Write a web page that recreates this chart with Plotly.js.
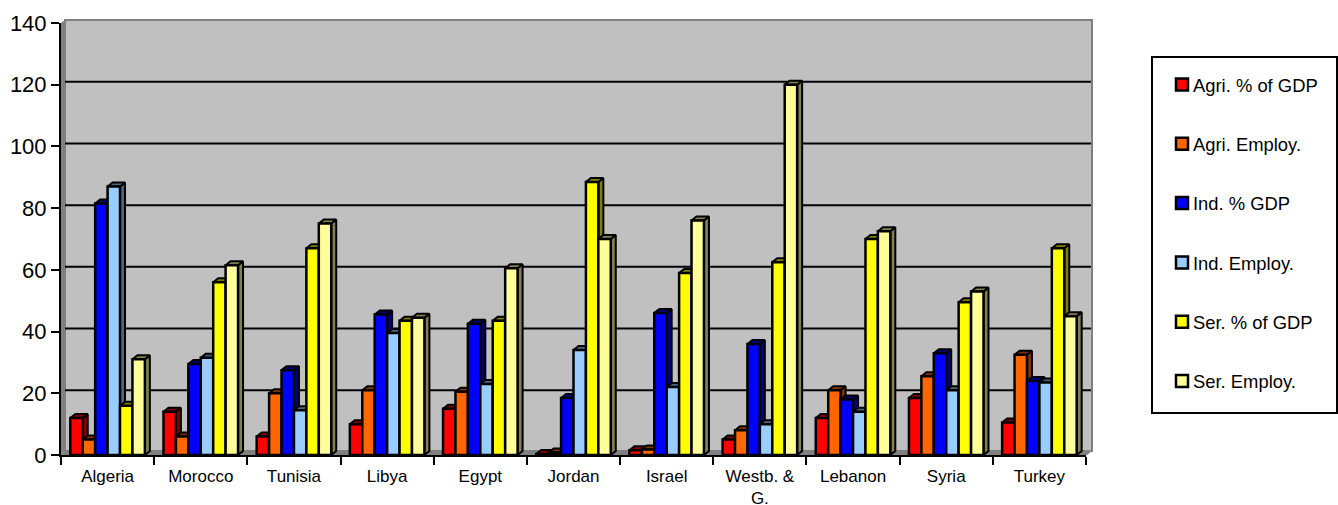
<!DOCTYPE html>
<html><head><meta charset="utf-8">
<script src="https://cdn.plot.ly/plotly-3.0.1.min.js"></script>
<style>html,body{margin:0;padding:0;background:#fff}</style></head>
<body><div id="chart" style="width:1338px;height:505px"></div>
<script>
const categories = ["Algeria","Morocco","Tunisia","Libya","Egypt","Jordan","Israel","Westb. &<br>G.","Lebanon","Syria","Turkey"];
const agriGdp    = [12, 14, 6, 10, 15, 0.3, 1.5, 5, 12, 18.5, 10.5];
const agriEmploy = [5, 6, 20, 21, 20.5, 0.8, 1.8, 8, 21, 25.5, 32.5];
const indGdp     = [81.5, 29.5, 27.5, 45.5, 42.5, 18.5, 46, 36, 18, 33, 24];
const indEmploy  = [87, 31.5, 14.5, 39.5, 23, 34, 22, 10, 14, 21, 23.5];
const serGdp     = [16, 56, 67, 43.5, 43.5, 88.5, 59, 62.5, 70, 49.5, 67];
const serEmploy  = [31, 61.5, 75, 44.5, 60.5, 70, 76, 120, 72.5, 53, 45];
const seriesNames = ["Agri. % of GDP","Agri. Employ.","Ind. % GDP","Ind. Employ.","Ser. % of GDP","Ser. Employ."];
const seriesValues = [agriGdp, agriEmploy, indGdp, indEmploy, serGdp, serEmploy];
const frontColors = ["#FF0000","#FF6600","#0000FF","#99CCFF","#FFFF00","#FFFF99"];
const sideColors  = ["#800000","#803300","#000080","#4D6680","#808000","#808050"];
const yTicks = [0,20,40,60,80,100,120,140];

const px = v => v/1338, py = v => 1 - v/505;
const L=61, R=1086, B=455, T=23;
const depthX = 5/((R-L)/11), depthY = 4/((B-T)/140);
const gridDepthY = 3/((B-T)/140);
const barSpan = 0.8, barW = barSpan/6;

const traces = [];
seriesValues.forEach((vals,j)=>{
  const sx=[],sy=[],tx=[],ty=[];
  vals.forEach((v,i)=>{
    const x0=i-barSpan/2+j*barW, x1=x0+barW;
    sx.push(x1,x1+depthX,x1+depthX,x1,x1,null);
    sy.push(0,depthY,v+depthY,v,0,null);
    tx.push(x0,x0+depthX,x1+depthX,x1,x0,null);
    ty.push(v,v+depthY,v+depthY,v,v,null);
  });
  [[sx,sy],[tx,ty]].forEach(p=>traces.push({
    type:"scatter",mode:"lines",x:p[0],y:p[1],xaxis:"x",yaxis:"y",fill:"toself",
    fillcolor:sideColors[j],line:{color:"#000",width:2},showlegend:false,hoverinfo:"skip"
  }));
});
seriesValues.forEach((vals,j)=>traces.push({
  type:"bar",name:seriesNames[j],x:categories,y:vals,xaxis:"x2",yaxis:"y2",
  legendgroup:"g"+j,
  marker:{color:frontColors[j],line:{color:"#000",width:2.5}}
}));

const shapes = [
 {type:"rect",xref:"paper",yref:"paper",x0:px(65),x1:px(1092),y0:py(451),y1:py(20),fillcolor:"#C0C0C0",line:{color:"#808080",width:2},layer:"below"},
 {type:"path",xref:"paper",yref:"paper",path:`M${px(61)},${py(455)}L${px(65)},${py(451)}L${px(65)},${py(20)}L${px(61)},${py(23)}Z`,fillcolor:"#808080",line:{width:0},layer:"below"},
 {type:"path",xref:"paper",yref:"paper",path:`M${px(61)},${py(455)}L${px(65)},${py(451)}L${px(1092)},${py(451)}L${px(1087)},${py(455)}Z`,fillcolor:"#808080",line:{width:0},layer:"below"},
 {type:"rect",xref:"paper",yref:"paper",x0:px(1152),x1:px(1337),y0:py(413),y1:py(57),fillcolor:"#fff",line:{color:"#000",width:2},layer:"below"}
];
yTicks.slice(1,-1).forEach(t=>shapes.push({type:"line",xref:"paper",yref:"y",x0:px(65),x1:px(1091),y0:t+gridDepthY,y1:t+gridDepthY,line:{color:"#000",width:2},layer:"below"}));

const tickVals = categories.map((c,i)=>i-0.5).concat([categories.length-0.5]);
const dom=[px(L),px(R)], ydom=[py(B),py(T)];
const layout = {
  width:1338,height:505,margin:{l:0,r:0,t:0,b:0,pad:0},paper_bgcolor:"#fff",plot_bgcolor:"rgba(0,0,0,0)",
  font:{family:"Liberation Sans, Arial, sans-serif",color:"#000"},
  barmode:"group",bargap:0.2,bargroupgap:0,shapes,showlegend:true,
  xaxis:{domain:dom,range:[-0.5,10.5],tickmode:"array",tickvals:tickVals,ticktext:tickVals.map(()=>""),ticks:"outside",ticklen:8,tickwidth:2,tickcolor:"#000",showgrid:false,zeroline:false,showline:true,linecolor:"#000",linewidth:2,anchor:"y"},
  xaxis2:{domain:dom,overlaying:"x",type:"category",categoryorder:"array",categoryarray:categories,range:[-0.5,10.5],ticks:"",tickfont:{size:17},ticklabelstandoff:9,tickangle:0,showgrid:false,zeroline:false,showline:false,anchor:"y2"},
  yaxis:{domain:ydom,range:[0,140],tickmode:"array",tickvals:yTicks,ticks:"outside",ticklen:8,tickwidth:2,tickcolor:"#000",tickfont:{size:22},showgrid:false,zeroline:false,showline:true,linecolor:"#000",linewidth:2,anchor:"x"},
  yaxis2:{domain:ydom,overlaying:"y",range:[0,140],visible:false,anchor:"x2"},
  legend:{x:px(1153),xanchor:"left",y:py(66),yanchor:"top",traceorder:"grouped",tracegroupgap:32.4,bgcolor:"rgba(0,0,0,0)",borderwidth:0,font:{size:18.4},itemclick:false,itemdoubleclick:false}
};
Plotly.newPlot("chart",traces,layout,{displayModeBar:false}).then(()=>{
  document.querySelectorAll("#chart .legend .legendbar path, #chart .legend .legendpoints path").forEach(p=>{
    const m=/translate\(([-\d.]+)/.exec(p.getAttribute("transform")||"");
    const x=m?parseFloat(m[1]):0;
    p.setAttribute("transform",`translate(${x+9},0)`);
  });
});
</script></body></html>
